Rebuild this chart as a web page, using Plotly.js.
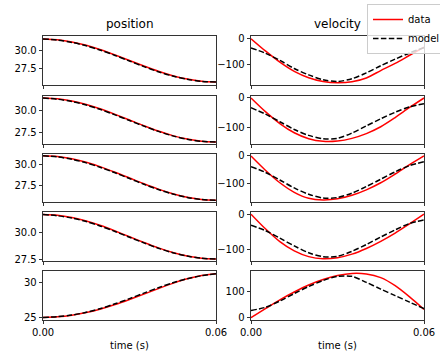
<!DOCTYPE html>
<html>
<head>
<meta charset="utf-8">
<script src="https://cdn.plot.ly/plotly-3.0.1.min.js"></script>
<style>html,body{margin:0;padding:0;background:#fff;}#chart{width:440px;height:352px;}</style>
</head>
<body>
<div id="chart"></div>
<script>
// ---- data ----
const time = [0, 0.005, 0.01, 0.015, 0.02, 0.025, 0.03, 0.035, 0.04, 0.045, 0.05, 0.055, 0.06];

const pos1Data  = [31.68, 31.57, 31.26, 30.77, 30.13, 29.38, 28.58, 27.78, 27.03, 26.39, 25.90, 25.59, 25.48];
const pos1Model = [31.68, 31.52, 31.19, 30.70, 30.06, 29.31, 28.50, 27.70, 26.96, 26.34, 25.87, 25.58, 25.47];
const pos2Data  = [31.40, 31.31, 31.06, 30.66, 30.14, 29.53, 28.88, 28.23, 27.62, 27.10, 26.70, 26.45, 26.36];
const pos2Model = [31.40, 31.26, 31.00, 30.60, 30.08, 29.47, 28.82, 28.18, 27.58, 27.07, 26.69, 26.45, 26.36];
const pos3Data  = [31.12, 31.03, 30.76, 30.32, 29.76, 29.11, 28.41, 27.70, 27.05, 26.49, 26.05, 25.78, 25.69];
const pos3Model = [31.12, 30.97, 30.69, 30.25, 29.69, 29.04, 28.34, 27.64, 27.00, 26.46, 26.04, 25.78, 25.69];
const pos4Data  = [31.71, 31.64, 31.43, 31.10, 30.67, 30.16, 29.62, 29.08, 28.57, 28.14, 27.81, 27.60, 27.53];
const pos4Model = [31.71, 31.59, 31.37, 31.04, 30.61, 30.11, 29.57, 29.04, 28.54, 28.12, 27.80, 27.60, 27.53];
const pos5Data  = [25.08, 25.16, 25.38, 25.76, 26.26, 26.88, 27.58, 28.32, 29.08, 29.81, 30.44, 30.90, 31.15];
const pos5Model = [25.08, 25.18, 25.40, 25.79, 26.32, 26.97, 27.69, 28.46, 29.21, 29.89, 30.46, 30.88, 31.14];

const vel1Data  = [0, -48, -92, -128, -153, -168, -173, -169, -154, -125, -97, -65, -33];
const vel1Model = [-36, -57, -85, -117, -142, -161, -168, -157, -134, -106, -80, -56, -35];
const vel2Data  = [0, -46, -86, -117, -137, -146, -145, -136, -120, -97, -66, -32, 0];
const vel2Model = [-33, -54, -80, -106, -126, -137, -136, -118, -94, -70, -48, -30, -19];
const vel3Data  = [0, -52, -98, -133, -155, -161, -157, -144, -124, -98, -66, -32, 0];
const vel3Model = [-39, -60, -88, -117, -140, -154, -152, -136, -112, -85, -58, -35, -21];
const vel4Data  = [0, -41, -77, -103, -119, -125, -122, -112, -96, -76, -53, -27, 0];
const vel4Model = [-31, -46, -67, -89, -108, -119, -118, -104, -85, -64, -44, -26, -16];
const vel5Data  = [0, 35, 69, 99, 126, 147, 162, 170, 168, 154, 123, 80, 32];
const vel5Model = [28, 40, 64, 93, 120, 143, 159, 159, 136, 110, 85, 60, 35];

const colTitles = ["position", "velocity"];
const xTitle = "time (s)";
const seriesNames = ["data", "model"];

// ---- build ----
const posData = [pos1Data, pos2Data, pos3Data, pos4Data, pos5Data];
const posModel = [pos1Model, pos2Model, pos3Model, pos4Model, pos5Model];
const velData = [vel1Data, vel2Data, vel3Data, vel4Data, vel5Data];
const velModel = [vel1Model, vel2Model, vel3Model, vel4Model, vel5Model];

const W = 440, H = 352;
const colX = [[43, 216], [251, 424]];
const rowY = [[36, 85], [96, 144], [154, 202], [212, 261], [271, 320]];
const posRanges = [[25.05, 32.11], [26.14, 31.63], [25.48, 31.33], [27.34, 31.94], [24.72, 31.53]];
const velRanges = [[-181.6, 10.6], [-155, 6.7], [-168.5, 7.3], [-131.2, 6.2], [-8.7, 179.6]];

const traces = [];
const layout = {
  width: W, height: H,
  margin: {l: 0, r: 0, t: 0, b: 0, pad: 0, autoexpand: false},
  paper_bgcolor: '#ffffff', plot_bgcolor: '#ffffff',
  font: {family: 'DejaVu Sans, sans-serif', size: 10, color: '#000000'},
  showlegend: true,
  legend: {
    x: 367 / W, y: 1 - 4 / H, xanchor: 'left', yanchor: 'top',
    bgcolor: 'rgba(255,255,255,0.8)', bordercolor: '#cccccc', borderwidth: 1,
    font: {size: 10, family: 'DejaVu Sans, sans-serif'},
    tracegroupgap: 0
  },
  annotations: []
};

let idx = 0;
for (let r = 0; r < 5; r++) {
  for (let c = 0; c < 2; c++) {
    idx++;
    const xa = idx === 1 ? 'x' : 'x' + idx;
    const ya = idx === 1 ? 'y' : 'y' + idx;
    const dataY = c === 0 ? posData[r] : velData[r];
    const modelY = c === 0 ? posModel[r] : velModel[r];
    traces.push({
      x: time, y: dataY, xaxis: xa, yaxis: ya, type: 'scatter', mode: 'lines',
      name: seriesNames[0], showlegend: idx === 1, legendgroup: 'd',
      line: {color: '#ff0000', width: 1.5, shape: 'spline', smoothing: 0.8},
      hoverinfo: 'skip'
    });
    traces.push({
      x: time, y: modelY, xaxis: xa, yaxis: ya, type: 'scatter', mode: 'lines',
      name: seriesNames[1], showlegend: idx === 1, legendgroup: 'm',
      line: {color: '#000000', width: 1.5, dash: '5.5px,2.4px', shape: 'spline', smoothing: 0.8},
      hoverinfo: 'skip'
    });
    const xKey = idx === 1 ? 'xaxis' : 'xaxis' + idx;
    const yKey = idx === 1 ? 'yaxis' : 'yaxis' + idx;
    const bottom = r === 4;
    layout[xKey] = {
      domain: [colX[c][0] / W, colX[c][1] / W],
      anchor: ya, range: [0, 0.06],
      tickmode: 'array', tickvals: [0, 0.06], ticktext: ['0.00', '0.06'],
      showticklabels: bottom, ticks: 'outside', ticklen: 3.5, tickwidth: 0.8, tickcolor: '#000',
      showline: true, linecolor: '#000', linewidth: 0.8, mirror: true,
      showgrid: false, zeroline: false, fixedrange: true,
      tickfont: {size: 10, color: '#000'}
    };
    let yr, dt, fmt;
    if (c === 0) {
      yr = posRanges[r];
      dt = r === 4 ? 5 : 2.5;
      fmt = r === 4 ? 'd' : '.1f';
    } else {
      yr = velRanges[r];
      dt = 100; fmt = 'd';
    }
    layout[yKey] = {
      domain: [1 - rowY[r][1] / H, 1 - rowY[r][0] / H],
      anchor: xa, range: yr,
      tickmode: 'linear', tick0: 0, dtick: dt, tickformat: fmt,
      ticks: 'outside', ticklen: 3.5, tickwidth: 0.8, tickcolor: '#000',
      showline: true, linecolor: '#000', linewidth: 0.8, mirror: true,
      showgrid: false, zeroline: false, fixedrange: true,
      tickfont: {size: 10, color: '#000'}
    };
  }
}

for (let c = 0; c < 2; c++) {
  const cx = (colX[c][0] + colX[c][1]) / 2 / W;
  layout.annotations.push({
    text: colTitles[c], xref: 'paper', yref: 'paper', x: cx, y: 1 - 24.5 / H,
    xanchor: 'center', yanchor: 'middle', showarrow: false,
    font: {size: 12, color: '#000', family: 'DejaVu Sans, sans-serif'}
  });
  layout.annotations.push({
    text: xTitle, xref: 'paper', yref: 'paper', x: cx, y: 1 - 345.5 / H,
    xanchor: 'center', yanchor: 'middle', showarrow: false,
    font: {size: 10, color: '#000', family: 'DejaVu Sans, sans-serif'}
  });
}

Plotly.newPlot('chart', traces, layout, {staticPlot: true, displayModeBar: false});
</script>
</body>
</html>
